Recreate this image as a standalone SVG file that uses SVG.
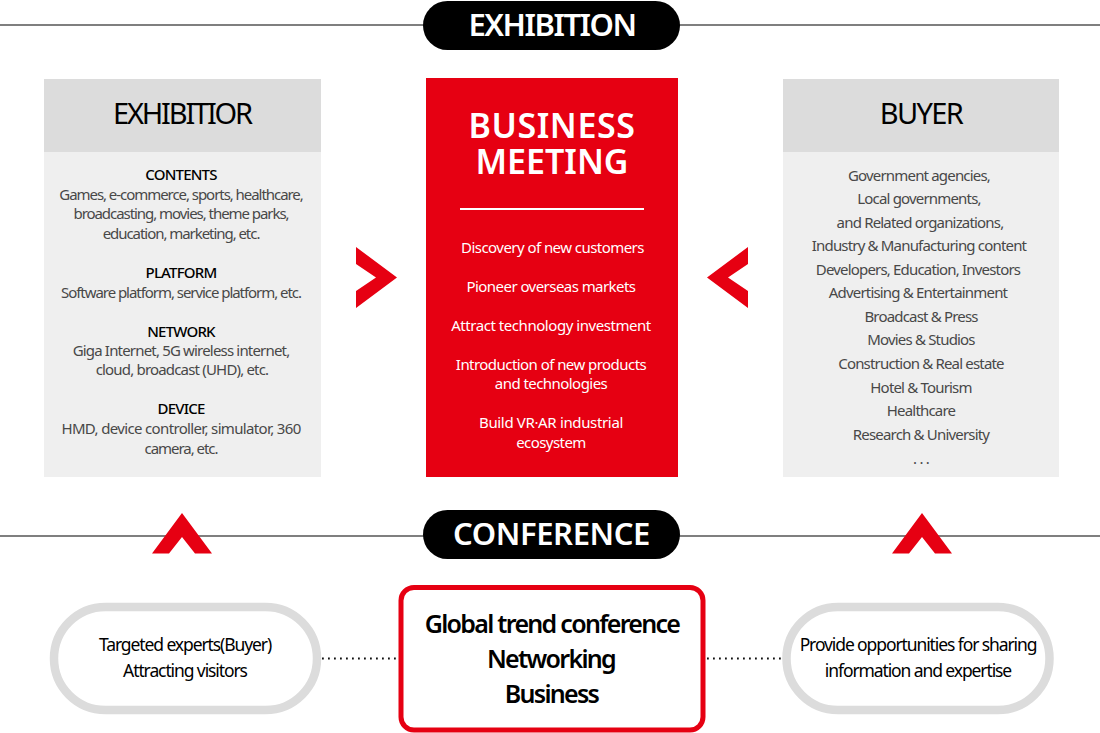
<svg xmlns="http://www.w3.org/2000/svg" width="1100" height="733" viewBox="0 0 1100 733">
<style>
text{font-family:"Noto Sans","Open Sans","Liberation Sans",sans-serif;text-anchor:middle}
.b{font-size:15px;fill:#484848;letter-spacing:-1.05px}
.g{font-size:15px;fill:#484848;letter-spacing:-0.82px}
.h{font-size:15px;fill:#000;font-weight:500;letter-spacing:-0.8px}
.w{font-size:15px;fill:#fff;letter-spacing:-0.55px}
.ttl{font-size:29px;fill:#000;letter-spacing:-2.2px}
.pill{font-size:31px;fill:#fff;font-weight:600}
.m{font-size:17.5px;fill:#000;letter-spacing:-1.1px}
.c{font-size:25px;fill:#000;font-weight:600;letter-spacing:-1.7px}
.ln{stroke:#555;stroke-width:1.3;fill:none}
.dot{stroke:#111;stroke-width:1.8;stroke-dasharray:1.8 4.2;fill:none}
.red{fill:#e60012}
.oval{fill:#fff;stroke:#dcdcdc;stroke-width:8.500}
</style>
<rect width="1100" height="733" fill="#fff"/>
<g id="connectors">
<path class="ln" d="M0 25H1100M0 536H1100"/>
<path class="dot" d="M322 658.500H398M707 658.500H782"/>
</g>
<g id="exhibition-pill"><rect x="423" y="1" width="257" height="49" rx="24.500" fill="#000"/><text class="pill" x="552" y="36" style="letter-spacing:-1.5px">EXHIBITION</text></g>
<g id="exhibitior">
<rect x="44" y="79" width="277" height="398" fill="#efefef"/><rect x="44" y="79" width="277" height="73" fill="#dcdcdc"/>
<text class="ttl" x="182" y="124">EXHIBITIOR</text>
<text class="h" x="181" y="180">CONTENTS</text>
<text class="b" x="181" y="200">Games, e-commerce, sports, healthcare,</text>
<text class="b" x="181" y="219">broadcasting, movies, theme parks,</text>
<text class="b" x="181" y="239">education, marketing, etc.</text>
<text class="h" x="181" y="278">PLATFORM</text>
<text class="b" x="181" y="298">Software platform, service platform, etc.</text>
<text class="h" x="181" y="337">NETWORK</text>
<text class="g" x="181" y="356">Giga Internet, 5G wireless internet,</text>
<text class="g" x="182" y="375">cloud, broadcast (UHD), etc.</text>
<text class="h" x="181" y="414">DEVICE</text>
<text class="b" x="181" y="434" style="letter-spacing:-0.65px">HMD, device controller, simulator, 360</text>
<text class="b" x="181" y="454">camera, etc.</text>
</g>
<g id="business-meeting">
<rect class="red" x="426" y="78" width="252" height="399"/>
<text style="font-size:34px;font-weight:600;fill:#fff"><tspan x="552" y="138" style="letter-spacing:0.6px">BUSINESS</tspan><tspan x="552" y="174">MEETING</tspan></text>
<rect x="460" y="208" width="184" height="2" fill="#fff"/>
<text class="w" x="552.500" y="253">Discovery of new customers</text>
<text class="w" x="551" y="292">Pioneer overseas markets</text>
<text class="w" x="551" y="331" style="letter-spacing:-0.45px">Attract technology investment</text>
<text class="w" x="551" y="370">Introduction of new products</text>
<text class="w" x="551" y="389">and technologies</text>
<text class="w" x="551" y="428" style="letter-spacing:-0.35px">Build VR·AR industrial</text>
<text class="w" x="551" y="448">ecosystem</text>
</g>
<g id="buyer">
<rect x="783" y="79" width="276" height="398" fill="#efefef"/><rect x="783" y="79" width="276" height="73" fill="#dcdcdc"/>
<text class="ttl" x="921" y="124" style="letter-spacing:-1.6px">BUYER</text>
<text class="g" x="919" y="181">Government agencies,</text>
<text class="g" x="919" y="204">Local governments,</text>
<text class="g" x="920" y="228">and Related organizations,</text>
<text class="g" x="919" y="251">Industry &amp; Manufacturing content</text>
<text class="g" x="918" y="275">Developers, Education, Investors</text>
<text class="g" x="918" y="298">Advertising &amp; Entertainment</text>
<text class="g" x="921" y="322">Broadcast &amp; Press</text>
<text class="g" x="921" y="345">Movies &amp; Studios</text>
<text class="g" x="921" y="369">Construction &amp; Real estate</text>
<text class="g" x="921" y="393">Hotel &amp; Tourism</text>
<text class="g" x="921" y="416">Healthcare</text>
<text class="g" x="921" y="440">Research &amp; University</text>
<text class="g" x="921" y="464">. . .</text>
</g>
<g id="arrow-right"><path class="red" d="M356 247L397 277.500L356 308V291L376 277.500L356 264Z"/></g>
<g id="arrow-left"><path class="red" d="M748 247L707 277.500L748 308V291L728 277.500L748 264Z"/></g>
<g id="arrow-up-left"><path class="red" d="M152 553.500L182 513L212 553.500H195L182 537L169 553.500Z"/></g>
<g id="arrow-up-right"><path class="red" d="M892 553.500L922 513L952 553.500H935L922 537L909 553.500Z"/></g>
<g id="conference-pill"><rect x="423" y="510" width="257" height="49" rx="24.500" fill="#000"/><text class="pill" x="551.500" y="545" style="letter-spacing:-0.4px">CONFERENCE</text></g>
<g id="visitors"><rect class="oval" x="54" y="607" width="263" height="103" rx="51.500"/>
<text class="m" x="185" y="651">Targeted experts(Buyer)</text><text class="m" x="185" y="677">Attracting visitors</text></g>
<g id="conference"><rect x="401" y="587.500" width="302" height="142.500" rx="13" fill="#fff" stroke="#e60012" stroke-width="5"/>
<text class="c" x="552" y="633">Global trend conference</text><text class="c" x="551" y="668">Networking</text><text class="c" x="551.500" y="703">Business</text></g>
<g id="sharing"><rect class="oval" x="786.500" y="607" width="263" height="103" rx="51.500"/>
<text class="m" x="918" y="651">Provide opportunities for sharing</text><text class="m" x="918" y="677">information and expertise</text></g>
</svg>
